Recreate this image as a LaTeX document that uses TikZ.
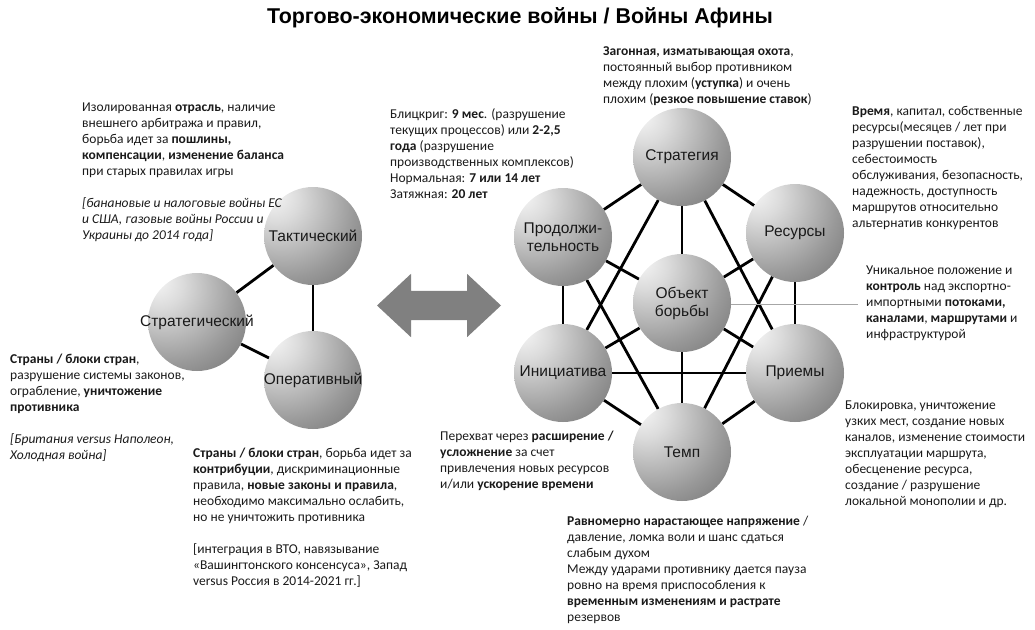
\documentclass[tikz,border=0pt]{standalone}
\usepackage{fontspec}
\setmainfont{Carlito}
\newfontfamily\arialfont{Liberation Sans}
\usetikzlibrary{shapes.arrows, backgrounds}
\definecolor{GrayA}{HTML}{808080}
\definecolor{GrayB}{HTML}{A6A6A6}
\definecolor{InkA}{HTML}{1A1A1A}
\pgfdeclareradialshading{sphereshade}{\pgfpoint{-22bp}{22bp}}{color(0bp)=(black!3); color(12bp)=(black!14); color(35bp)=(black!40); color(60bp)=(black!64); color(95bp)=(black!76)}
\tikzset{
  sphere/.style={circle, minimum size=98pt, inner sep=0pt, shading=sphereshade},
  slbl/.style={align=center, font=\arialfont\fontsize{15.5}{18}\selectfont, text=black!90},
  link/.style={line width=2.8pt, black},
  note/.style={anchor=north west, align=left, inner sep=0pt,
               font=\fontsize{13.5}{16}\selectfont, text=InkA,
               execute at begin node={\rule{0pt}{11.5pt}}},
  pin/.style={draw=GrayB, line width=0.8pt},
  ttl/.style={font=\arialfont\bfseries\fontsize{21.4}{24}\selectfont},
  swap/.style={double arrow, fill=GrayA, inner xsep=0pt, inner ysep=14.5pt,
               minimum height=124pt, double arrow head extend=17pt,
               double arrow tip angle=86},
}

\begin{document}
\begin{tikzpicture}[x=1pt,y=-1pt]
  \useasboundingbox (0,0) rectangle (1035,629);
  \node[ttl] (title) at (520,18) {Торгово-экономические войны / Войны Афины};

  % levels of war
  \node[sphere, label={[slbl]center:Тактический}] (tact) at (313,236) {};
  \node[sphere, label={[slbl]center:Стратегический}] (strat) at (197,322) {};
  \node[sphere, label={[slbl]center:Оперативный}] (oper) at (313,380) {};

  % war parameters
  \node[sphere, label={[slbl]center:Стратегия}] (strg) at (682,157) {};
  \node[sphere, label={[slbl]center:Продолжи-\\тельность}] (dur) at (563,237) {};
  \node[sphere, label={[slbl]center:Ресурсы}] (res) at (795,233) {};
  \node[sphere, label={[slbl]center:Объект\\борьбы}] (obj) at (682,303) {};
  \node[sphere, label={[slbl]center:Инициатива}] (init) at (563,373) {};
  \node[sphere, label={[slbl]center:Приемы}] (tech) at (795,373) {};
  \node[sphere, label={[slbl]center:Темп}] (pace) at (682,452) {};

  \begin{scope}[on background layer]
    \foreach \a/\b in {tact/strat, tact/oper, strat/oper,
                       strg/dur, strg/res, strg/obj, strg/init, strg/tech,
                       dur/obj, dur/init, dur/pace, res/obj, res/tech, res/pace,
                       obj/init, obj/tech, obj/pace, init/tech, init/pace, tech/pace}
      \draw[link] (\a) -- (\b);
  \end{scope}

  \node[swap] (arrow) at (439,305.5) {};

  \coordinate (objtip) at (858,304);
  \draw[pin] (obj.east |- objtip) -- (objtip);

  % notes
  \node[note] (nTact) at (82,103) {Изолированная \textbf{отрасль}, наличие\\
    внешнего арбитража и правил,\\
    борьба идет за \textbf{пошлины,}\\
    \textbf{компенсации}, \textbf{изменение баланса}\\
    при старых правилах игры\\ \mbox{}\\
    \textit{[банановые и налоговые войны ЕС}\\
    \textit{и США, газовые войны России и}\\
    \textit{Украины до 2014 года]}};
  \node[note] (nStrat) at (10,354) {\textbf{Страны / блоки стран},\\
    разрушение системы законов,\\
    ограбление, \textbf{уничтожение}\\
    \textbf{противника}\\ \mbox{}\\
    \textit{[Британия versus Наполеон,}\\
    \textit{Холодная война]}};
  \node[note] (nOper) at (193,448) {\textbf{Страны / блоки стран}, борьба идет за\\
    \textbf{контрибуции}, дискриминационные\\
    правила, \textbf{новые законы и правила},\\
    необходимо максимально ослабить,\\
    но не уничтожить противника\\ \mbox{}\\
    {[}интеграция в ВТО, навязывание\\
    «Вашингтонского консенсуса», Запад\\
    versus Россия в 2014-2021 гг.]};
  \node[note] (nDur) at (390,108) {Блицкриг: \textbf{9 мес}. (разрушение\\
    текущих процессов) или \textbf{2-2,5}\\
    \textbf{года} (разрушение\\
    производственных комплексов)\\
    Нормальная: \textbf{7 или 14 лет}\\
    Затяжная: \textbf{20 лет}};
  \node[note] (nStrg) at (603,46) {\textbf{Загонная, изматывающая охота},\\
    постоянный выбор противником\\
    между плохим (\textbf{уступка}) и очень\\
    плохим (\textbf{резкое повышение ставок})};
  \node[note] (nRes) at (852,106) {\textbf{Время}, капитал, собственные\\
    ресурсы(месяцев / лет при\\
    разрушении поставок),\\
    себестоимость\\
    обслуживания, безопасность,\\
    надежность, доступность\\
    маршрутов относительно\\
    альтернатив конкурентов};
  \node[note] (nObj) at (866,266) {Уникальное положение и\\
    \textbf{контроль} над экспортно-\\
    импортными \textbf{потоками,}\\
    \textbf{каналами}, \textbf{маршрутами} и\\
    инфраструктурой};
  \node[note] (nTech) at (845,401) {Блокировка, уничтожение\\
    узких мест, создание новых\\
    каналов, изменение стоимости\\
    эксплуатации маршрута,\\
    обесценение ресурса,\\
    создание / разрушение\\
    локальной монополии и др.};
  \node[note] (nInit) at (440,431) {Перехват через \textbf{расширение /}\\
    \textbf{усложнение} за счет\\
    привлечения новых ресурсов\\
    и/или \textbf{ускорение времени}};
  \node[note] (nPace) at (567,516) {\textbf{Равномерно нарастающее напряжение} /\\
    давление, ломка воли и шанс сдаться\\
    слабым духом\\
    Между ударами противнику дается пауза\\
    ровно на время приспособления к\\
    \textbf{временным изменениям и растрате}\\
    резервов};
\end{tikzpicture}
\end{document}
